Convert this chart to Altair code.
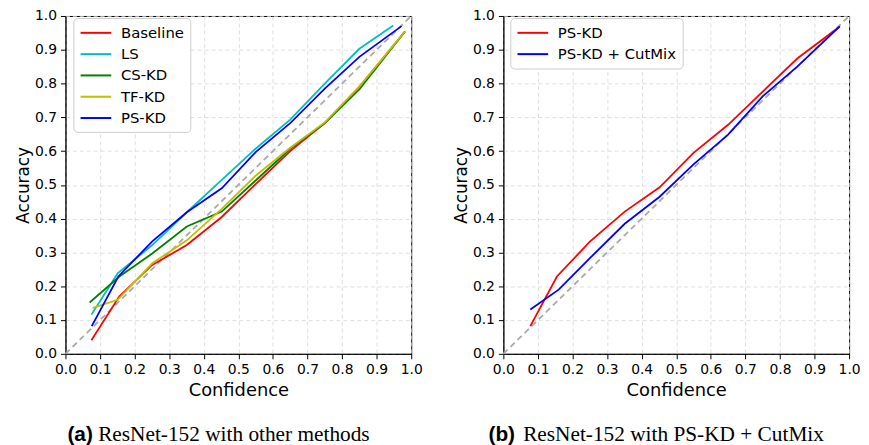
import altair as alt
import pandas as pd

# ---- data ----
left_series = ["Baseline", "LS", "CS-KD", "TF-KD", "PS-KD"]
left_colors = ["#ff0000", "#00bfbf", "#008000", "#bfbf00", "#0000ff"]

baseline_x = [0.075, 0.156, 0.251, 0.351, 0.452, 0.55, 0.65, 0.75, 0.85, 0.982]
baseline_y = [0.040, 0.170, 0.263, 0.322, 0.405, 0.502, 0.600, 0.683, 0.790, 0.954]
ls_x = [0.075, 0.151, 0.251, 0.351, 0.452, 0.55, 0.65, 0.75, 0.85, 0.948]
ls_y = [0.116, 0.238, 0.322, 0.419, 0.515, 0.607, 0.693, 0.800, 0.903, 0.972]
cskd_x = [0.070, 0.156, 0.251, 0.351, 0.452, 0.55, 0.65, 0.75, 0.85, 0.982]
cskd_y = [0.152, 0.229, 0.297, 0.377, 0.421, 0.513, 0.607, 0.683, 0.783, 0.954]
tfkd_x = [0.079, 0.151, 0.251, 0.351, 0.452, 0.55, 0.65, 0.75, 0.85, 0.982]
tfkd_y = [0.136, 0.160, 0.268, 0.336, 0.429, 0.527, 0.610, 0.685, 0.791, 0.954]
pskd_x = [0.076, 0.153, 0.251, 0.351, 0.452, 0.55, 0.65, 0.75, 0.85, 0.972]
pskd_y = [0.082, 0.229, 0.333, 0.419, 0.490, 0.597, 0.683, 0.785, 0.879, 0.970]

right_series = ["PS-KD", "PS-KD + CutMix"]
right_colors = ["#ff0000", "#0000ff"]
r_pskd_x = [0.078, 0.155, 0.251, 0.351, 0.452, 0.55, 0.65, 0.75, 0.85, 0.973]
r_pskd_y = [0.082, 0.229, 0.333, 0.421, 0.493, 0.595, 0.678, 0.776, 0.874, 0.969]
r_cut_x = [0.078, 0.160, 0.251, 0.351, 0.452, 0.55, 0.65, 0.75, 0.85, 0.973]
r_cut_y = [0.131, 0.190, 0.284, 0.385, 0.465, 0.561, 0.649, 0.762, 0.850, 0.969]

diag_x = [0.0, 1.0]
diag_y = [0.0, 1.0]
ticks = [0.0, 0.1, 0.2, 0.3, 0.4, 0.5, 0.6, 0.7, 0.8, 0.9, 1.0]


def long(names, xs, ys):
    rows = []
    for n, xx, yy in zip(names, xs, ys):
        for i, (a, b) in enumerate(zip(xx, yy)):
            rows.append({"series": n, "x": a, "y": b, "order": i})
    return pd.DataFrame(rows)


left_df = long(left_series, [baseline_x, ls_x, cskd_x, tfkd_x, pskd_x],
               [baseline_y, ls_y, cskd_y, tfkd_y, pskd_y])
right_df = long(right_series, [r_pskd_x, r_cut_x], [r_pskd_y, r_cut_y])
diag_df = pd.DataFrame({"x": diag_x, "y": diag_y})

W, H = 349, 341

xscale = alt.Scale(domain=[0, 1], nice=False, zero=False)
yscale = alt.Scale(domain=[0, 1], nice=False, zero=False)
xaxis = alt.Axis(values=ticks, format=".1f", title="Confidence", titlePadding=5,
                 titleFontSize=18, labelFlush=False, labelOverlap=False)
yaxis = alt.Axis(values=ticks, format=".1f", title="Accuracy", titlePadding=2,
                 labelFlush=False, labelOverlap=False)


def panel(df, domain, colors, lx, ly, tag, caption, tag_x, cap_x):
    diag = alt.Chart(diag_df).mark_line(
        color="#a9a9a9", strokeDash=[6, 4], strokeWidth=1.8
    ).encode(x=alt.X("x:Q", scale=xscale, axis=xaxis),
             y=alt.Y("y:Q", scale=yscale, axis=yaxis))
    lines = alt.Chart(df).mark_line(strokeWidth=1.8).encode(
        x=alt.X("x:Q", scale=xscale, axis=xaxis),
        y=alt.Y("y:Q", scale=yscale, axis=yaxis),
        order="order:Q",
        color=alt.Color(
            "series:N",
            scale=alt.Scale(domain=domain, range=colors),
            sort=domain,
            legend=alt.Legend(
                title=None, orient="none", legendX=lx, legendY=ly,
                symbolType="M-1,0H3", symbolSize=240, symbolStrokeWidth=2,
                labelFont="DejaVu Sans", labelFontSize=15, labelColor="black",
                labelOffset=24, rowPadding=4.5, padding=6,
                strokeColor="#cccccc", fillColor="white", cornerRadius=4,
            ),
        ),
    )
    t1 = alt.Chart(diag_df.head(1)).mark_text(
        text=tag, align="left", baseline="alphabetic", font="Liberation Sans",
        fontWeight="bold", fontSize=21, color="black"
    ).encode(x=alt.value(tag_x), y=alt.value(429))
    t2 = alt.Chart(diag_df.head(1)).mark_text(
        text=caption, align="left", baseline="alphabetic", font="Liberation Serif",
        fontSize=21.5, color="black"
    ).encode(x=alt.value(cap_x), y=alt.value(429))
    return alt.layer(diag, lines, t1, t2).properties(width=W, height=H)


left = panel(left_df, left_series, left_colors, 8, 2, "(a)",
             "ResNet-152 with other methods", 2, 33)
right = panel(right_df, right_series, right_colors, 7, 2, "(b)",
              "ResNet-152 with PS-KD + CutMix", -15, 20)

chart = alt.hconcat(left, right, spacing=93, bounds="flush").resolve_scale(
    color="independent"
).properties(
    padding={"left": 6, "top": -2, "right": 0, "bottom": 0},
    background="white",
).configure_axis(
    labelFont="DejaVu Sans", labelFontSize=14, labelColor="black",
    titleFont="DejaVu Sans", titleFontSize=17, titleFontWeight="normal",
    titleColor="black", domainColor="black", tickColor="black", tickSize=5,
    labelPadding=4, gridColor="#d6d6d6", gridDash=[4, 3], gridWidth=0.8,
).configure_view(stroke="black", strokeWidth=1)

chart.save("out.html", embed_options={"renderer": "svg", "actions": False})
